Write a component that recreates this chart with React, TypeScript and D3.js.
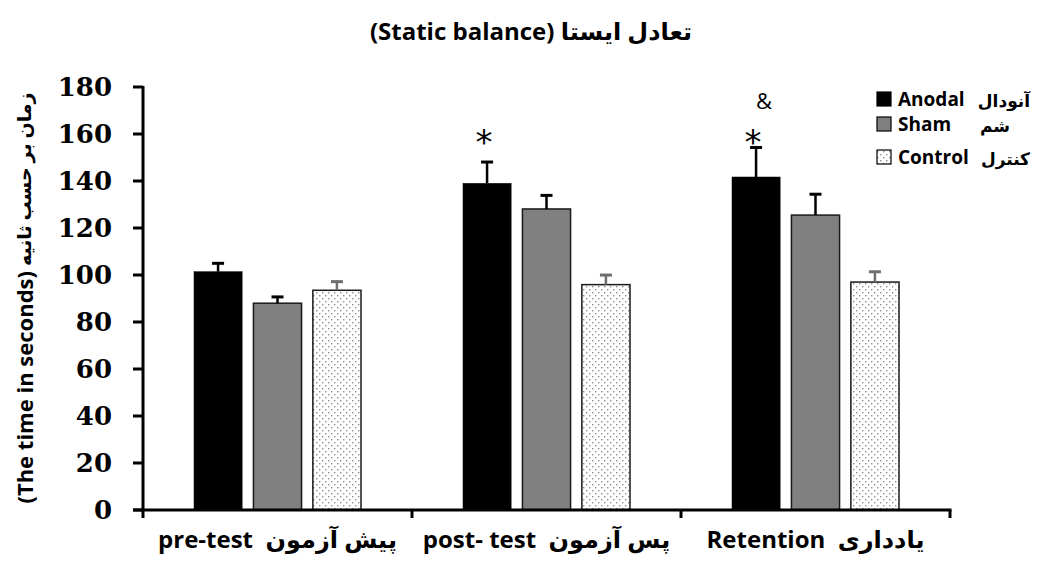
import React from "react";
import * as d3 from "d3";

const categories = ["pre-test", "post-test", "retention"];
const categoryEnglish = ["pre-test", "post- test", "Retention"];
const categoryPersian = ["پیش آزمون", "پس آزمون", "یادداری"];
const series = ["Anodal", "Sham", "Control"];
const anodalValues = [101.4, 139.0, 141.7];
const anodalErrors = [4, 9.5, 13];
const shamValues = [88.0, 128.1, 125.5];
const shamErrors = [3.1, 6.2, 9.3];
const controlValues = [93.5, 95.9, 97.0];
const controlErrors = [4.1, 4.5, 4.8];
const yTicks = [0, 20, 40, 60, 80, 100, 120, 140, 160, 180];
const legendEnglish = ["Anodal", "Sham", "Control"];
const legendPersian = ["آنودال", "شم", "کنترل"];
const annotations = [
  { cat: "post-test", series: "Anodal", text: "*" },
  { cat: "retention", series: "Anodal", text: "*" },
  { cat: "retention", series: "Anodal", text: "&" },
];

const W = 1042;
const H = 564;
const sans = "'Open Sans', 'DejaVu Sans', sans-serif";

export default function App() {
  const x0 = d3.scaleBand<string>().domain(categories).range([143, 950]).padding(0);
  const x1 = d3.scaleBand<string>().domain(series).range([51, 218]).paddingInner(0.19).paddingOuter(0);
  const y = d3.scaleLinear().domain([0, 180]).range([510, 87]);

  const valuesBy: Record<string, number[]> = { Anodal: anodalValues, Sham: shamValues, Control: controlValues };
  const errorsBy: Record<string, number[]> = { Anodal: anodalErrors, Sham: shamErrors, Control: controlErrors };
  const fills: Record<string, string> = { Anodal: "#000000", Sham: "#808080", Control: "url(#dots)" };
  const strokes: Record<string, string> = { Anodal: "#000000", Sham: "#1a1a1a", Control: "#1a1a1a" };
  const errColor: Record<string, string> = { Anodal: "#000000", Sham: "#000000", Control: "#6e6e6e" };

  const bw = x1.bandwidth();
  const legendRowsY = [99, 124, 157];
  const legendPersianEnd = [1030, 1010, 1030];

  return (
    <svg width={W} height={H} style={{ position: "absolute", left: 0, top: 0, background: "#fff" }}>
      <defs>
        <pattern id="dots" width={6} height={6} patternUnits="userSpaceOnUse">
          <rect width={6} height={6} fill="#ffffff" />
          <rect x={1} y={1} width={1.4} height={1.4} fill="#8c8c8c" />
          <rect x={4} y={4} width={1.4} height={1.4} fill="#8c8c8c" />
        </pattern>
      </defs>
      <rect width={W} height={H} fill="#fff" />

      {/* Title */}
      <text x={531} y={40} textAnchor="middle" fontFamily={sans} fontWeight="bold" fontSize={24} fill="#000" style={{ whiteSpace: "pre" }}>
        (Static balance) تعادل ایستا
      </text>

      {/* Bars */}
      {categories.map((c, ci) =>
        series.map((s) => {
          const v = valuesBy[s][ci];
          const e = errorsBy[s][ci];
          const bx = (x0(c) as number) + (x1(s) as number);
          const cx = bx + bw / 2;
          return (
            <g key={c + s}>
              <rect x={bx} y={y(v)} width={bw} height={y(0) - y(v)} fill={fills[s]} stroke={strokes[s]} strokeWidth={s === "Anodal" ? 0.5 : 1.5} />
              <line x1={cx} x2={cx} y1={y(v)} y2={y(v + e)} stroke={errColor[s]} strokeWidth={2.5} />
              <line x1={cx - 6} x2={cx + 6} y1={y(v + e) + 1} y2={y(v + e) + 1} stroke={errColor[s]} strokeWidth={3} />
            </g>
          );
        })
      )}

      {/* Annotations */}
      {annotations.map((a, i) => {
        const cx = (x0(a.cat) as number) + (x1(a.series) as number) + bw / 2;
        return a.text === "*" ? (
          <text key={i} x={cx - 3} y={154} textAnchor="middle" fontFamily="'DejaVu Sans', sans-serif" fontSize={34} fill="#000">*</text>
        ) : (
          <text key={i} x={cx + 8} y={109} textAnchor="middle" fontFamily={sans} fontSize={22} fill="#000">&amp;</text>
        );
      })}

      {/* Y axis */}
      <line x1={143} x2={143} y1={y(180) - 1} y2={518} stroke="#000" strokeWidth={3} />
      {yTicks.map((t) => (
        <g key={t}>
          <line x1={133} x2={143} y1={y(t)} y2={y(t)} stroke="#000" strokeWidth={3} />
          <text x={112} y={y(t)} dy="0.36em" textAnchor="end" fontFamily="'DejaVu Serif', serif" fontWeight="bold" fontSize={26} fill="#000">
            {t}
          </text>
        </g>
      ))}

      {/* X axis */}
      <line x1={133} x2={951.5} y1={y(0)} y2={y(0)} stroke="#000" strokeWidth={3} />
      {categories.map((c) => (
        <line key={c} x1={(x0(c) as number) + x0.bandwidth()} x2={(x0(c) as number) + x0.bandwidth()} y1={y(0)} y2={518} stroke="#000" strokeWidth={3} />
      ))}
      {categories.map((c, i) => (
        <text key={c} x={(x0(c) as number) + x0.bandwidth() / 2} y={548} textAnchor="middle" fontFamily={sans} fontWeight="bold" fill="#000" style={{ whiteSpace: "pre" }}>
          <tspan fontSize={24}>{categoryEnglish[i]}</tspan>
          <tspan fontSize={24}>{"  "}</tspan>
          <tspan fontSize={24}>{categoryPersian[i]}</tspan>
        </text>
      ))}

      {/* Y title */}
      <text transform="translate(24,298) rotate(-90)" textAnchor="middle" dominantBaseline="central" fontFamily={sans} fontWeight="bold" fill="#000" style={{ whiteSpace: "pre" }}>
        <tspan fontSize={22}>(The time in seconds)</tspan>
        <tspan fontSize={19}> زمان بر حسب ثانیه</tspan>
      </text>

      {/* Legend */}
      {series.map((s, i) => {
        const cy = legendRowsY[i];
        return (
          <g key={s}>
            <rect x={877} y={cy - 7} width={14} height={14} fill={fills[s]} stroke="#000" strokeWidth={1.2} />
            <text x={898} y={cy} dy="0.36em" fontFamily={sans} fontWeight="bold" fontSize={19} fill="#000">
              {legendEnglish[i]}
            </text>
            <text x={legendPersianEnd[i]} y={cy + 2} dy="0.36em" textAnchor="end" fontFamily={sans} fontWeight="bold" fontSize={17} fill="#000">
              {legendPersian[i]}
            </text>
          </g>
        );
      })}
    </svg>
  );
}
